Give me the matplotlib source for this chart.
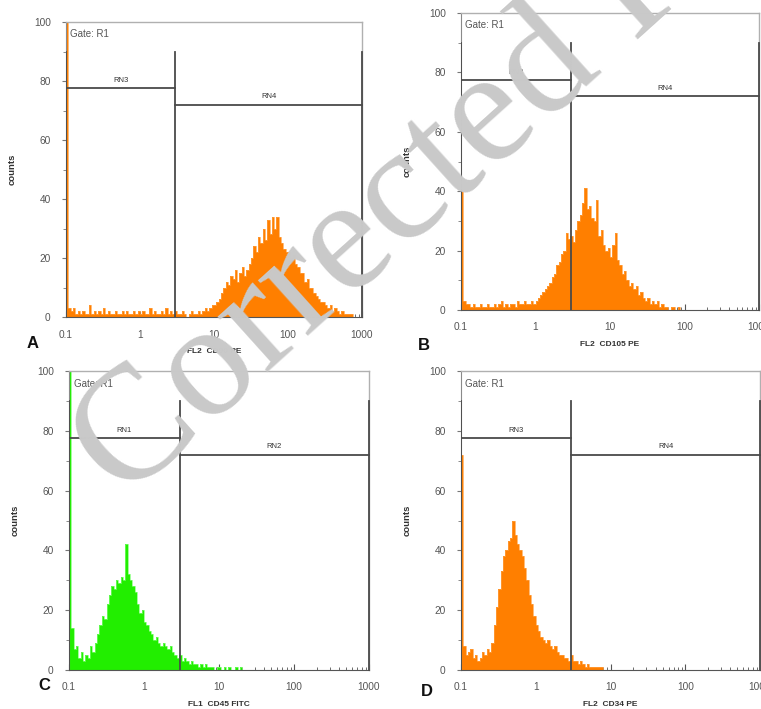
import numpy as np
import matplotlib
matplotlib.use("Agg")
import matplotlib.pyplot as plt
from matplotlib.ticker import FixedLocator, NullFormatter, LogLocator

plt.rcParams['font.family'] = ['Liberation Sans', 'DejaVu Sans']

# histogram counts, 32 log bins per decade starting at 0.1
bins_per_decade = 32
counts_a = [110,
    3, 2, 3, 1, 2, 1, 2, 1, 1, 4, 1, 2, 1, 2, 1, 3, 1, 2, 1, 1, 2, 1, 1, 2, 1, 2, 1, 1, 2, 1, 2,
    1, 2, 1, 1, 3, 1, 2, 1, 1, 2, 1, 3, 1, 2, 1, 2, 1, 1, 2, 1, 0, 1, 2, 1, 1, 2, 1, 2, 3, 2, 3, 4,
    4, 5, 6, 8, 10, 12, 11, 14, 13, 16, 12, 15, 17, 14, 16, 18,
    20, 24, 22, 27, 25, 30, 26, 33, 28, 34, 30, 34, 27, 25, 23, 22,
    22, 20, 21, 18, 17, 15, 15, 12, 13, 10, 10, 8, 7, 6, 5, 5,
    4, 3, 4, 2, 3, 2, 1, 2, 1, 1, 1, 1]
counts_b = [40,
    3, 2, 2, 1, 2, 1, 1, 2, 1, 1, 2, 1, 1, 2, 1, 2, 3, 1, 2, 1, 2, 2, 1, 3, 2, 2, 3, 2, 2, 3, 2,
    3, 4, 5, 6, 7, 8, 9, 11, 12, 15, 16, 19, 20, 26, 24, 25,
    23, 27, 30, 32, 36, 41, 34, 35, 31, 30, 37, 25, 27, 22, 20, 21,
    18, 22, 26, 17, 15, 12, 13, 10, 8, 9, 7, 8, 5, 6, 4, 3,
    4, 2, 3, 2, 3, 1, 2, 1, 1, 0, 1, 1, 0, 1]
counts_c = [120,
    14, 7, 8, 4, 6, 3, 5, 4, 8, 6, 9, 12, 15, 18, 17, 22, 25, 28, 27, 30, 29, 31, 30, 42, 32, 30,
    28, 26, 22, 19, 20,
    16, 15, 13, 12, 10, 11, 9, 8, 9, 8, 7, 8, 6, 5, 4, 5,
    3, 4, 3, 2, 3, 2, 2, 1, 2, 1, 2, 1, 1, 1, 0, 1,
    1, 0, 1, 0, 1, 0, 0, 1, 0, 1]
counts_d = [72,
    8, 5, 6, 7, 4, 5, 3, 4, 6, 5, 7, 6, 9, 15, 21, 27, 33, 38, 40, 43, 44, 50, 45, 42, 40, 38,
    34, 30, 25, 22, 18,
    15, 13, 11, 10, 9, 10, 8, 7, 8, 6, 5, 5, 4, 4, 3, 5,
    3, 3, 2, 3, 2, 1, 2, 1, 1, 1, 1, 1, 1]

panels = ['A', 'B', 'C', 'D']
xlabels = ['FL2  CD90 PE', 'FL2  CD105 PE', 'FL1  CD45 FITC', 'FL2  CD34 PE']
gate_names = [('RN3', 'RN4'), ('RN3', 'RN4'), ('RN1', 'RN2'), ('RN3', 'RN4')]
fill_colors = ['#ff7f00', '#ff7f00', '#22ee00', '#ff7f00']
edge_colors = ['#ffa040', '#ffa040', '#7cff70', '#ffa040']
all_counts = [counts_a, counts_b, counts_c, counts_d]

gate_split = 3.0
gate_top = 90
left_level = 77.5
right_level = 72

# axes rectangles in pixels (left, right, top, bottom)
W, H = 761, 709
boxes = [(66, 362, 22, 317), (461, 759, 13, 310), (69, 369, 371, 670), (461, 760, 371, 670)]
letter_pos = [(33, 343), (424, 345), (44, 686), (427, 692)]

fig = plt.figure(figsize=(W / 100, H / 100), dpi=100)

for k in range(4):
    l, r, t, b = boxes[k]
    ax = fig.add_axes([l / W, (H - b) / H, (r - l) / W, (b - t) / H])
    vals = np.minimum(np.array(all_counts[k], dtype=float), 101)
    edges = 0.1 * 10 ** (np.arange(len(vals) + 1) / bins_per_decade)
    ax.stairs(vals, edges, fill=True, color=fill_colors[k], zorder=2)
    ax.stairs(vals, edges, color=edge_colors[k], lw=0.5, zorder=2)

    ax.set_xscale('log')
    ax.set_xlim(0.1, 1000)
    ax.set_ylim(0, 100)

    # gate markers
    gc = '#4a4a4a'
    ax.plot([0.1, 0.1], [0, gate_top], color=gc, lw=1.3, zorder=3)
    ax.plot([gate_split, gate_split], [0, gate_top], color=gc, lw=1.3, zorder=3)
    ax.plot([1000, 1000], [0, gate_top], color=gc, lw=1.3, zorder=3, clip_on=False)
    ax.plot([0.1, gate_split], [left_level, left_level], color=gc, lw=1.3, zorder=3)
    ax.plot([gate_split, 1000], [right_level, right_level], color=gc, lw=1.3, zorder=3, clip_on=False)
    ax.text(np.sqrt(0.1 * gate_split), left_level + 2.6, gate_names[k][0], ha='center',
            va='center', fontsize=5.5, color='#333333')
    ax.text(np.sqrt(gate_split * 1000), right_level + 2.6, gate_names[k][1], ha='center',
            va='center', fontsize=5.5, color='#333333')
    ax.text(0.015, 0.958, 'Gate: R1', transform=ax.transAxes, ha='left', va='center',
            fontsize=7, color='#555555')

    for side in ['top', 'right']:
        ax.spines[side].set_color('#b0b0b0')
        ax.spines[side].set_linewidth(1.0)
    ax.spines['left'].set_color('#8a8a8a')
    ax.spines['bottom'].set_color('#555555')

    ax.yaxis.set_major_locator(FixedLocator([0, 20, 40, 60, 80, 100]))
    ax.yaxis.set_minor_locator(FixedLocator([10, 30, 50, 70, 90]))
    ax.set_xticks([0.1, 1, 10, 100, 1000])
    ax.set_xticklabels(['0.1', '1', '10', '100', '1000'])
    ax.xaxis.set_minor_locator(LogLocator(base=10, subs=np.arange(2, 10)))
    ax.xaxis.set_minor_formatter(NullFormatter())
    ax.tick_params(axis='y', which='major', direction='out', length=3, pad=8,
                   labelsize=7.3, labelcolor='#555555', color='#777777')
    ax.tick_params(axis='y', which='minor', direction='out', length=2, color='#777777')
    ax.tick_params(axis='x', which='major', direction='in', length=4, pad=9,
                   labelsize=7.3, labelcolor='#555555', color='#555555')
    ax.tick_params(axis='x', which='minor', direction='in', length=2, color='#555555')

    ax.set_ylabel('counts', fontsize=6.8, fontweight='bold', color='#333333')
    ax.yaxis.set_label_coords(-49 / (r - l), 0.5)
    ax.set_xlabel(xlabels[k], fontsize=6, fontweight='bold', color='#333333')
    ax.xaxis.set_label_coords(0.5, -31 / (b - t))

    fig.text(letter_pos[k][0] / W, 1 - letter_pos[k][1] / H, panels[k], fontsize=12,
             fontweight='bold', ha='center', va='center', color='#111111')

# watermark
fig.text(124 / W, 1 - 503 / H, 'Corrected Proof', family=['Liberation Serif', 'DejaVu Serif'],
         fontsize=118, color='#c9c9c9', rotation=42, rotation_mode='anchor',
         ha='left', va='baseline', zorder=10)

fig.savefig('out.png', dpi=100)
